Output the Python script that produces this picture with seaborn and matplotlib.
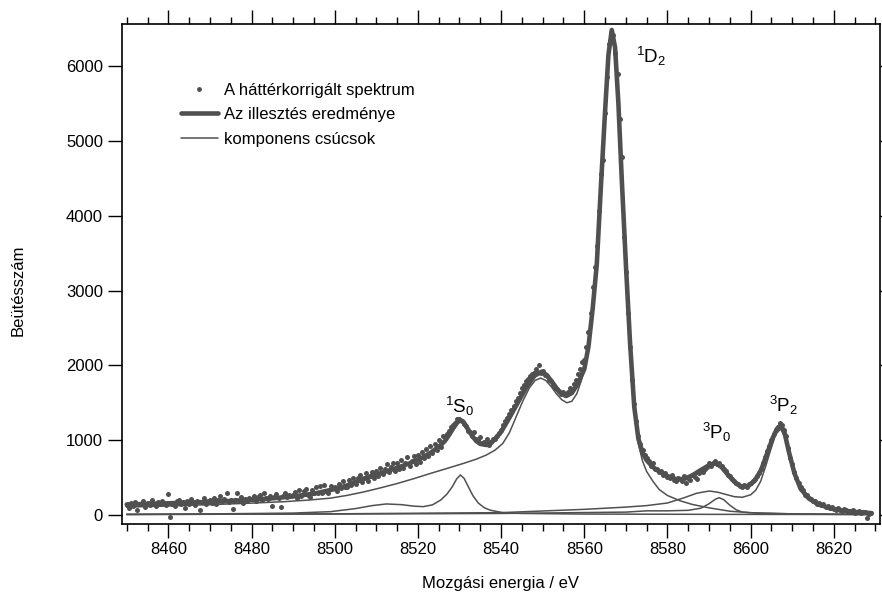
import numpy as np
import pandas as pd
import matplotlib
matplotlib.use("Agg")
import matplotlib.pyplot as plt
from matplotlib.lines import Line2D
from matplotlib.ticker import MultipleLocator
import seaborn as sns

# measured spectrum, 0.5 eV steps from 8450 to 8629 eV
energy = np.arange(8450.0, 8629.01, 0.5)
counts = [
    130, 95, 160, 120, 175, 60, 150, 140, 185, 110, 165, 130, 200, 145, 120, 175, 140, 190, 155, 135,
    280, -30, 150, 120, 180, 200, 140, 170, 95, 185, 150, 210, 165, 130, 190, 60, 175, 220, 150, 185,
    200, 165, 230, 140, 195, 250, 180, 210, 290, 170, 195, 85, 205, 300, 185, 240, 160, 215, 190, 230,
    210, 250, 190, 235, 270, 200, 290, 225, 215, 260, 120, 240, 280, 230, 110, 255, 300, 235, 270, 250,
    270, 310, 230, 330, 260, 320, 350, 270, 240, 340, 300, 370, 300, 390, 290, 400, 320, 290, 390, 360,
    380, 320, 420, 360, 450, 380, 370, 470, 400, 490, 420, 500, 530, 440, 500, 560, 460, 520, 580, 500,
    590, 520, 630, 550, 610, 680, 570, 640, 700, 590, 690, 620, 730, 630, 700, 780, 650, 720, 790, 680,
    800, 710, 840, 760, 880, 790, 920, 830, 950, 870, 1000, 910, 1060, 1040, 1080, 1120, 1170, 1200, 1230, 1280,
    1280, 1250, 1210, 1190, 1120, 1110, 1050, 1110, 1020, 1000, 1040, 960, 980, 1010, 940, 970, 1020, 1010, 1060, 1090,
    1130, 1200, 1250, 1290, 1350, 1400, 1460, 1520, 1570, 1630, 1700, 1740, 1790, 1820, 1860, 1880, 1900, 1950, 2010, 1900,
    1920, 1870, 1860, 1810, 1790, 1740, 1700, 1680, 1660, 1620, 1650, 1600, 1640, 1700, 1680, 1750, 1800, 1880, 1950, 2050,
    2070, 2250, 2450, 2700, 3050, 3320, 3600, 4060, 4560, 4750, 5370, 5860, 6300, 6450, 6420, 6170, 5900, 5300, 4780, 3720,
    3250, 2700, 2250, 1800, 1480, 1250, 1060, 950, 870, 800, 760, 720, 660, 690, 610, 620, 570, 590, 540, 560,
    510, 490, 530, 470, 450, 500, 480, 460, 520, 430, 490, 470, 540, 510, 480, 560, 600, 570, 620, 640,
    690, 660, 700, 720, 680, 690, 650, 610, 590, 540, 520, 480, 460, 430, 410, 390, 380, 395, 370, 410,
    430, 450, 480, 520, 560, 620, 700, 780, 860, 920, 1000, 1080, 1130, 1180, 1230, 1200, 1140, 1050, 900, 760,
    680, 570, 500, 430, 370, 330, 270, 270, 230, 210, 190, 190, 150, 160, 130, 140, 100, 120, 90, 100,
    80, 60, 90, 70, 50, 75, 60, 40, 55, 65, 30, 45, 50, 20, 35, 40, -40, 10, 30,
]

# fitted envelope
fit_e = [8450, 8455, 8460, 8465, 8470, 8475, 8480, 8485, 8490, 8495, 8500, 8503, 8506, 8509, 8512,
         8515, 8518, 8521, 8523, 8525, 8526.5, 8527.5, 8528.5, 8529.5, 8530.3, 8531, 8532, 8533, 8534,
         8535, 8536.5, 8538, 8540, 8542, 8544, 8546, 8548, 8549.7, 8551, 8552.5, 8554, 8555.6, 8557,
         8558.5, 8560, 8561, 8562, 8563, 8564, 8565, 8565.8, 8566.6, 8567.4, 8568.2, 8569, 8570, 8571,
         8572, 8573, 8574, 8575, 8576.5, 8578, 8580, 8582, 8584, 8586, 8588, 8590, 8591.6, 8593, 8594.8,
         8596.5, 8598, 8599.5, 8601, 8602.5, 8604, 8605.3, 8606.3, 8607.2, 8608.1, 8609.2, 8610.5, 8612,
         8614, 8616, 8619, 8622, 8626, 8629]
fit_y = [140, 148, 156, 165, 175, 188, 203, 222, 248, 285, 345, 395, 460, 520, 575,
         630, 690, 765, 830, 910, 990, 1070, 1160, 1240, 1268, 1240, 1150, 1060, 990,
         950, 935, 985, 1110, 1300, 1500, 1700, 1860, 1915, 1870, 1760, 1640, 1590, 1630,
         1760, 1950, 2250, 2750, 3350, 4400, 5400, 6150, 6484, 6250, 5500, 4500, 3350, 2300,
         1450, 1020, 830, 730, 640, 580, 520, 480, 480, 530, 600, 665, 690, 640, 520,
         420, 375, 390, 460, 600, 830, 1030, 1150, 1200, 1110, 840, 560, 350,
         220, 150, 90, 60, 35, 25]

# component peaks
d2_e = [8450, 8460, 8470, 8480, 8488, 8494, 8499, 8503, 8507, 8511, 8515, 8519, 8523, 8527, 8531,
        8534, 8536.4, 8538.5, 8540.4, 8542, 8543.6, 8545.2, 8546.8, 8548.2, 8549.5, 8550.7, 8552,
        8553.3, 8554.6, 8555.8, 8557, 8558.2, 8559.3, 8560.3, 8561.2, 8562, 8563, 8564, 8565,
        8565.8, 8566.6, 8567.4, 8568.2, 8569, 8570, 8571, 8572, 8573, 8574, 8575, 8576.5, 8578, 8580,
        8583, 8586, 8590, 8595, 8600, 8610, 8620, 8629]
d2_y = [105, 120, 138, 158, 178, 200, 225, 262, 308, 362, 420, 485, 555, 622, 690,
        745, 800, 865, 955, 1100, 1310, 1520, 1700, 1800, 1830, 1800, 1720,
        1620, 1540, 1500, 1520, 1620, 1800, 2020, 2300, 2700, 3300, 4350, 5350,
        6100, 6420, 6200, 5450, 4450, 3300, 2250, 1400, 950, 720, 580, 450, 340, 260,
        190, 140, 95, 50, 30, 15, 8, 5]
s0_e = [8450, 8470, 8490, 8499, 8505, 8509, 8512.4, 8516, 8519, 8521.3, 8523.5, 8525.5, 8527, 8528.3,
        8529.3, 8530.2, 8531.1, 8532.1, 8533.2, 8534.5, 8536, 8537.5, 8540.4, 8545, 8560, 8590, 8629]
s0_y = [8, 14, 25, 44, 85, 125, 147, 138, 118, 111, 135, 200, 280, 380,
        480, 535, 490, 380, 260, 160, 95, 62, 31, 20, 12, 8, 6]
p0_e = [8450, 8500, 8540, 8570, 8575, 8580, 8585, 8588, 8590, 8591.5, 8592.4, 8593.5, 8595, 8596.5,
        8598, 8602, 8610, 8629]
p0_y = [8, 12, 20, 38, 55, 55, 62, 90, 150, 210, 231, 205, 130, 70,
        38, 22, 14, 8]
p2_e = [8450, 8500, 8540, 8560, 8570, 8575, 8580, 8584, 8587, 8590, 8592, 8594, 8596, 8598, 8600,
        8601.2, 8602.4, 8603.6, 8604.8, 8606, 8607.2, 8608.2, 8609.2, 8610.8, 8613.2, 8616, 8619, 8624, 8629]
p2_y = [5, 15, 31, 75, 105, 125, 160, 230, 290, 320, 305, 275, 245, 236, 270,
        330, 450, 650, 870, 1080, 1150, 1040, 800, 490, 235, 130, 80, 42, 25]

legend_labels = ["A háttérkorrigált spektrum", "Az illesztés eredménye", "komponens csúcsok"]
peak_labels = [r"$\mathregular{^1D_2}$", r"$\mathregular{^1S_0}$",
               r"$\mathregular{^3P_0}$", r"$\mathregular{^3P_2}$"]
peak_pos = [(8572.4, 6047), (8526.4, 1368), (8588.4, 1012), (8604.4, 1381)]

sns.set_style("ticks")
plt.rcParams["font.family"] = ["Liberation Sans", "DejaVu Sans"]
plt.rcParams["mathtext.fontset"] = "custom"
plt.rcParams["mathtext.rm"] = "Liberation Sans"
plt.rcParams["mathtext.it"] = "Liberation Sans:italic"
plt.rcParams["mathtext.bf"] = "Liberation Sans:bold"
for key in ["text.color", "axes.labelcolor", "xtick.color", "ytick.color"]:
    plt.rcParams[key] = "black"

grey = "#505050"
fig = plt.figure(figsize=(8.82, 5.96), dpi=100)
ax = fig.add_axes([0.138, 0.1203, 0.8598, 0.8389])

for ce, cy in [(d2_e, d2_y), (s0_e, s0_y), (p0_e, p0_y), (p2_e, p2_y)]:
    sns.lineplot(x=ce, y=cy, ax=ax, color=grey, lw=1.1, estimator=None, sort=False)
sns.lineplot(x=fit_e, y=fit_y, ax=ax, color=grey, lw=3.3, estimator=None, sort=False)
sns.scatterplot(x=energy, y=counts, ax=ax, color=grey, s=13, linewidth=0, zorder=3)

ax.set_xlim(8448.8, 8631.1)
ax.set_ylim(-125, 6560)
ax.xaxis.set_major_locator(MultipleLocator(20))
ax.xaxis.set_minor_locator(MultipleLocator(5))
ax.yaxis.set_major_locator(MultipleLocator(1000))
ax.tick_params(axis="x", which="major", direction="out", length=10, width=1,
               top=True, labelsize=12, pad=3)
ax.tick_params(axis="x", which="minor", direction="out", length=5, width=1, top=True)
ax.tick_params(axis="y", which="major", direction="out", length=10, width=1,
               right=True, labelsize=12, pad=3.5)
for sp in ax.spines.values():
    sp.set_visible(True)
    sp.set_linewidth(1.2)
    sp.set_color("black")

ax.set_xlabel("Mozgási energia / eV", fontsize=12)
ax.set_ylabel("Beütésszám", fontsize=12)
ax.xaxis.set_label_coords(0.5, -0.119)
ax.xaxis.label.set_va("center")
ax.yaxis.set_label_coords(-0.137, 0.469)
ax.yaxis.label.set_va("center")

for lab, (px, py) in zip(peak_labels, peak_pos):
    ax.text(px, py, lab, fontsize=13.5, ha="left", va="baseline")

handles = [Line2D([], [], ls="", marker="o", ms=3.5, color=grey, mew=0),
           Line2D([], [], lw=3.3, color=grey),
           Line2D([], [], lw=1.1, color=grey)]
ax.legend(handles, legend_labels, loc="upper left", bbox_to_anchor=(0.078, 0.883),
          frameon=False, fontsize=12, handlelength=2.2, handletextpad=0.4,
          labelspacing=0.57, borderpad=0, borderaxespad=0, numpoints=1)

fig.savefig("out.png", dpi=100)
plt.close(fig)
